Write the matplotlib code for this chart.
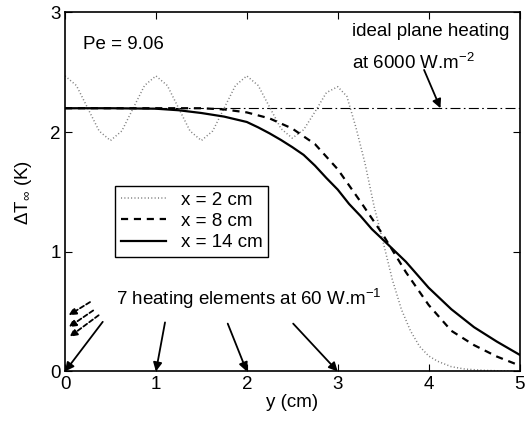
import numpy as np
import matplotlib
matplotlib.use('Agg')
import matplotlib.pyplot as plt

plt.rcParams['font.family'] = ['Liberation Sans', 'DejaVu Sans']
plt.rcParams['mathtext.fontset'] = 'custom'
plt.rcParams['mathtext.rm'] = 'Liberation Sans'
plt.rcParams['mathtext.it'] = 'Liberation Sans:italic'
plt.rcParams['font.size'] = 13.5

# temperature rise profiles across the channel, y in cm, dT in K
y_2cm = [0.0, 0.125, 0.25, 0.375, 0.5, 0.625, 0.75, 0.875, 1.0, 1.125, 1.25,
         1.375, 1.5, 1.625, 1.75, 1.875, 2.0, 2.125, 2.25, 2.375, 2.5, 2.625,
         2.75, 2.875, 3.0, 3.1, 3.2, 3.3, 3.4, 3.5, 3.6, 3.7, 3.8, 3.9, 4.0,
         4.1, 4.25, 4.4, 4.6, 5.0]
dT_2cm = [2.47, 2.39, 2.20, 2.01, 1.93, 2.01, 2.20, 2.39, 2.47, 2.39, 2.20,
          2.01, 1.93, 2.01, 2.20, 2.39, 2.47, 2.39, 2.21, 2.03, 1.95, 2.02,
          2.17, 2.33, 2.38, 2.30, 2.04, 1.74, 1.38, 1.08, 0.77, 0.52, 0.34,
          0.21, 0.13, 0.085, 0.04, 0.02, 0.01, 0.0]

y_8cm = [0.0, 1.0, 1.5, 1.75, 2.0, 2.25, 2.5, 2.75, 3.0, 3.25, 3.5, 3.75,
         4.0, 4.25, 4.5, 4.75, 5.0]
dT_8cm = [2.20, 2.20, 2.20, 2.19, 2.165, 2.115, 2.03, 1.90, 1.69, 1.42, 1.14,
          0.83, 0.556, 0.34, 0.22, 0.125, 0.05]

y_14cm = [0.0, 0.5, 1.0, 1.25, 1.5, 1.75, 2.0, 2.125, 2.25, 2.375, 2.5,
          2.625, 2.75, 2.875, 3.0, 3.125, 3.25, 3.375, 3.5, 3.75, 4.0, 4.25,
          4.5, 4.75, 5.0]
dT_14cm = [2.20, 2.20, 2.196, 2.183, 2.16, 2.13, 2.085, 2.04, 1.99, 1.935,
           1.875, 1.81, 1.72, 1.617, 1.52, 1.40, 1.30, 1.19, 1.10, 0.917,
           0.70, 0.52, 0.37, 0.25, 0.14]

plane_dT = 2.2
element_y = [0, 1, 2, 3]

fig = plt.figure(figsize=(5.26, 4.22), dpi=100)
ax = fig.add_axes([0.1236, 0.1197, 0.8641, 0.8507])

ax.axhline(plane_dT, color='black', lw=0.8, ls=(0, (9, 3, 1.5, 3)))
ax.plot(y_2cm, dT_2cm, color='#808080', lw=1.1, ls=(0, (0.7, 1.5)),
        label='x = 2 cm')
ax.plot(y_8cm, dT_8cm, color='black', lw=1.6, ls=(0, (3.2, 2.6)),
        label='x = 8 cm')
ax.plot(y_14cm, dT_14cm, color='black', lw=1.6, label='x = 14 cm')

ax.set_xlim(0, 5)
ax.set_ylim(0, 3)
ax.set_xticks([0, 1, 2, 3, 4, 5])
ax.set_yticks([0, 1, 2, 3])
ax.tick_params(direction='in', length=5, width=0.8, top=True, right=True,
               labelsize=13.5, pad=3)
for sp in ax.spines.values():
    sp.set_linewidth(1.2)

ax.set_xlabel('y (cm)', labelpad=1)
ax.set_ylabel(r'ΔT$_{\infty}$ (K)', labelpad=12)

leg = ax.legend(loc='upper left', bbox_to_anchor=(0.11, 0.517),
                borderaxespad=0, fancybox=False, framealpha=1,
                edgecolor='black', handlelength=2.4, handletextpad=0.8,
                labelspacing=0.22, borderpad=0.3)
leg.get_frame().set_linewidth(1.0)

ax.text(0.2, 2.73, 'Pe = 9.06', ha='left', va='center')
ax.text(3.16, 2.84, 'ideal plane heating', ha='left', va='center')
ax.text(3.16, 2.58, 'at 6000 W.m$^{-2}$', ha='left', va='center')
ax.annotate('', xy=(4.13, plane_dT), xytext=(3.95, 2.52),
            arrowprops=dict(arrowstyle='-|>', color='black', lw=1.3,
                            mutation_scale=13, shrinkA=0, shrinkB=0))

ax.text(0.56, 0.61, '7 heating elements at 60 W.m$^{-1}$', ha='left',
        va='center')
starts = [(0.415, 0.415), (1.10, 0.41), (1.79, 0.40), (2.51, 0.40)]
for ey, (sx, sy) in zip(element_y, starts):
    ax.annotate('', xy=(ey, 0), xytext=(sx, sy),
                arrowprops=dict(arrowstyle='-|>', color='black', lw=1.3,
                                mutation_scale=13, shrinkA=0, shrinkB=0))

# the three elements lying off the plot, at negative y
off_arrows = [((0.275, 0.58), (0.04, 0.47)),
              ((0.31, 0.51), (0.04, 0.37)),
              ((0.37, 0.47), (0.05, 0.29))]
for (sx, sy), (ex, ey) in off_arrows:
    ax.annotate('', xy=(ex, ey), xytext=(sx, sy),
                arrowprops=dict(arrowstyle='-|>', color='black', lw=1.3,
                                ls=(0, (2.5, 1.5)), mutation_scale=11,
                                shrinkA=0, shrinkB=0))

fig.savefig('out.png', dpi=100)
